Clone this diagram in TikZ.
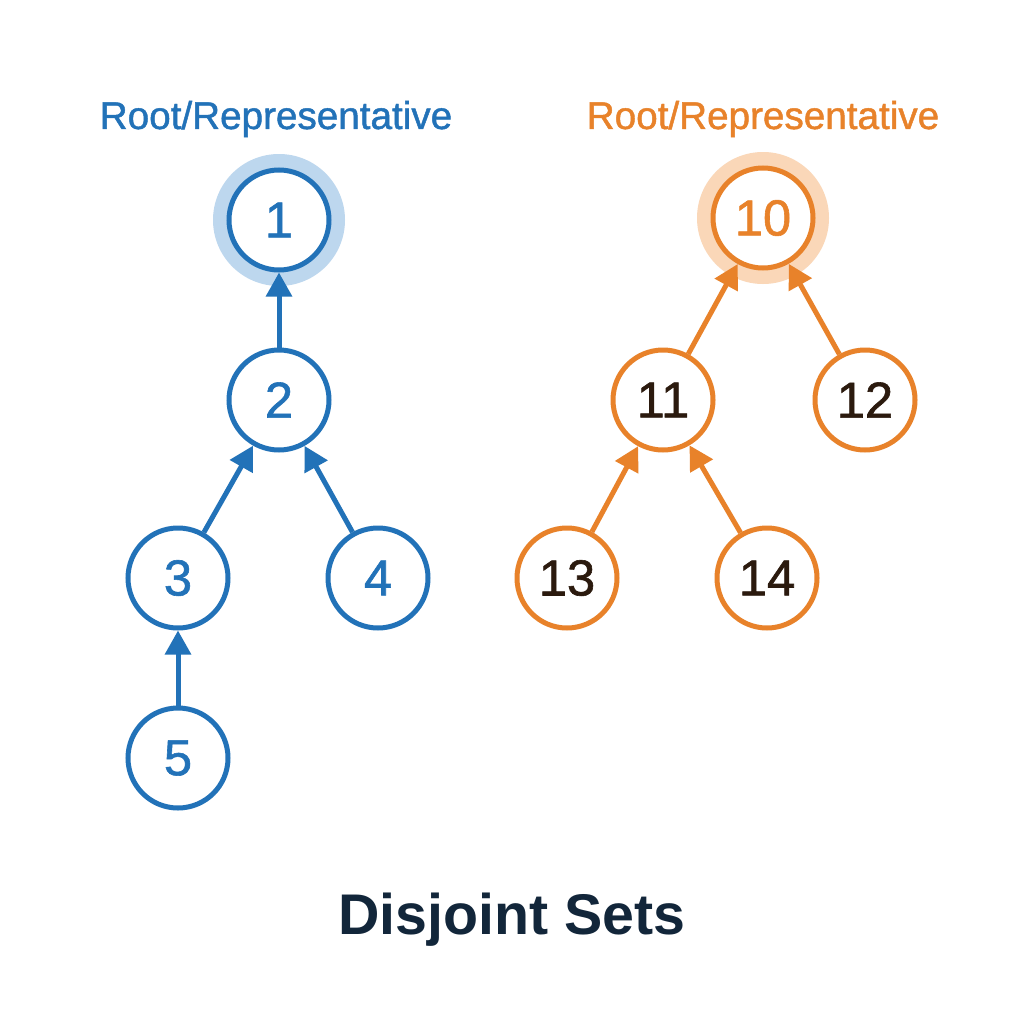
\documentclass[tikz,border=0pt]{standalone}
\usepackage{fontspec}
\setmainfont{Liberation Sans}
\newfontfamily\medfont[FakeBold=1.2]{Liberation Sans}
\usetikzlibrary{arrows.meta}
\definecolor{cblue}{HTML}{2272B8}
\definecolor{chalob}{HTML}{BDD7EE}
\definecolor{corange}{HTML}{E8822A}
\definecolor{chaloo}{HTML}{FAD7B8}
\definecolor{cdark}{HTML}{2B1A0E}
\definecolor{ctitle}{HTML}{12263A}
\tikzset{
  setnode/.style={circle, draw, fill=white, line width=3.75pt, minimum size=75pt, inner sep=0pt,
    font=\medfont\fontsize{38}{40}\selectfont},
  bnode/.style={setnode, draw=cblue, text=cblue},
  onode/.style={setnode, draw=corange, text=cdark},
  barrow/.style={draw=cblue, line width=3.75pt, -{Triangle[length=18pt,width=19pt]}},
  oarrow/.style={draw=corange, line width=3.75pt, -{Triangle[length=18pt,width=19pt]}},
  lbl/.style={font=\medfont\fontsize{29}{32}\selectfont},
}
\begin{document}
\begin{tikzpicture}[x=0.75pt,y=-0.75pt]
\useasboundingbox[fill=white] (0,0) rectangle (1024,1024);
% halos
\fill[chalob] (279,220) circle[radius=49.5pt];
\fill[chaloo] (763,218) circle[radius=49.5pt];
% labels
\node[lbl, text=cblue] (lb) at (276,119) {Root/Representative};
\node[lbl, text=corange] (lo) at (763,119) {Root/Representative};
% blue tree
\node[bnode] (n1) at (279,220) {1};
\node[bnode] (n2) at (279,400) {2};
\node[bnode] (n3) at (178,578) {3};
\node[bnode] (n4) at (378,578) {4};
\node[bnode] (n5) at (178,758) {5};
\draw[barrow] (n2) -- (n1);
\draw[barrow] (n3) -- (n2);
\draw[barrow] (n4) -- (n2);
\draw[barrow] (n5) -- (n3);
% orange tree
\node[onode, text=corange] (n10) at (763,218) {10};
\node[onode] (n11) at (663,400) {11};
\node[onode] (n12) at (865,400) {12};
\node[onode] (n13) at (567,578) {13};
\node[onode] (n14) at (767,578) {14};
\draw[oarrow] (n11) -- (n10);
\draw[oarrow] (n12) -- (n10);
\draw[oarrow] (n13) -- (n11);
\draw[oarrow] (n14) -- (n11);
% title
\node[text=ctitle, font=\fontsize{43}{46}\selectfont\bfseries] (title) at (512,920) {Disjoint Sets};
\end{tikzpicture}
\end{document}
